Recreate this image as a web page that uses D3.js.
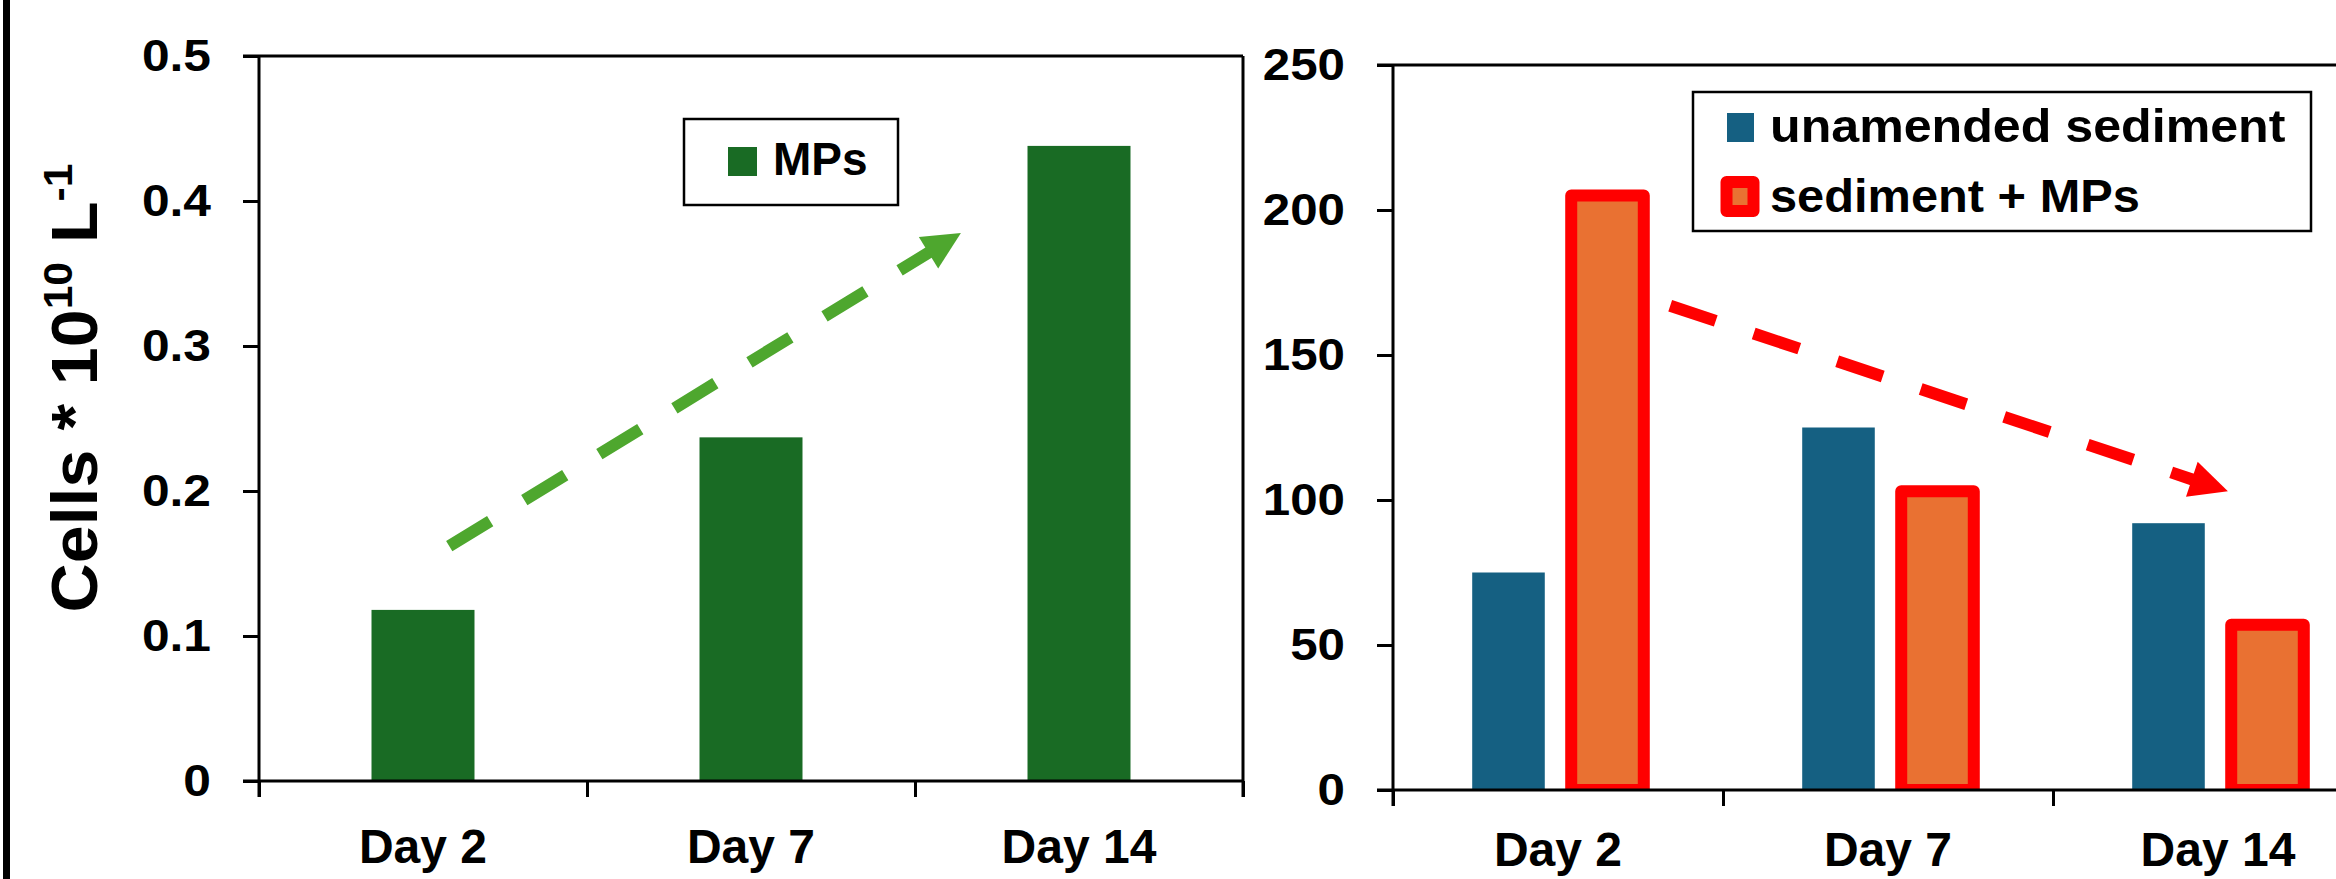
<!DOCTYPE html>
<html><head><meta charset="utf-8">
<script src="https://cdn.jsdelivr.net/npm/d3@7"></script>
<style>
body{margin:0;background:#fff}
svg{display:block}
text{font-family:"Liberation Sans",Arial,sans-serif;font-weight:bold;fill:#000}
</style>
</head><body>
<svg id="c" width="2336" height="879"></svg>
<script>
// ---------- data ----------
const days = ["Day 2", "Day 7", "Day 14"];
const mpsCells = [0.118, 0.237, 0.438];          // left panel (Cells * 10^10 L^-1)
const seriesNames = ["unamended sediment", "sediment + MPs"];
const unamended = [75, 125, 92];                  // right panel
const sedimentMPs = [205, 103, 57];
const leftTicks = [0, 0.1, 0.2, 0.3, 0.4, 0.5];
const rightTicks = [0, 50, 100, 150, 200, 250];
// trend arrows: [category index, value]
const trendUp = [[0.08, 0.162], [1.64, 0.378]];
const trendDown = [[0.34, 167], [2.03, 103]];

// ---------- style ----------
const C = {green:"#196B24", arrowGreen:"#4EA72E", blue:"#156082", orange:"#E97132", red:"#FF0000"};
const W = 2336, H = 879, TICK = 16, LW = 3;

const svg = d3.select("#c");
svg.append("rect").attr("x",3).attr("y",0).attr("width",7).attr("height",H).attr("fill","#000");

function widen(sel, k){
  sel.each(function(){
    const l = this.getComputedTextLength();
    this.setAttribute("textLength", l*k);
    this.setAttribute("lengthAdjust","spacingAndGlyphs");
  });
}
function line(g, x1,y1,x2,y2){
  g.append("line").attr("x1",x1).attr("y1",y1).attr("x2",x2).attr("y2",y2)
   .attr("stroke","#000").attr("stroke-width",LW);
}
function arrow(g, p0, p1, color){
  const dx=p1[0]-p0[0], dy=p1[1]-p0[1], len=Math.hypot(dx,dy);
  const ux=dx/len, uy=dy/len, nx=-uy, ny=ux;
  const hl=38, hw=18.5;
  const bx=p1[0]-ux*hl, by=p1[1]-uy*hl;
  g.append("line").attr("x1",p0[0]).attr("y1",p0[1]).attr("x2",bx+ux*2).attr("y2",by+uy*2)
   .attr("stroke",color).attr("stroke-width",12).attr("stroke-dasharray","48,40");
  g.append("path").attr("d",`M${p1[0]},${p1[1]}L${bx+nx*hw},${by+ny*hw}L${bx-nx*hw},${by-ny*hw}Z`)
   .attr("fill",color);
}

// ================= LEFT PANEL =================
const L = {x0:259, x1:1243, y0:781, y1:56};
const xL = d3.scaleBand().domain(days).range([L.x0, L.x1]).paddingInner(0.686).paddingOuter(0.343);
const xLi = d3.scaleLinear().domain([-0.5, 2.5]).range([L.x0, L.x1]);
const yL = d3.scaleLinear().domain([0, 0.5]).range([L.y0, L.y1]);
const gL = svg.append("g");

gL.selectAll("rect.bar").data(mpsCells).join("rect").attr("class","bar")
  .attr("x",(d,i)=>xL(days[i])).attr("width",xL.bandwidth())
  .attr("y",d=>yL(d)).attr("height",d=>yL(0)-yL(d)).attr("fill",C.green);

arrow(gL, [xLi(trendUp[0][0]), yL(trendUp[0][1])], [xLi(trendUp[1][0]), yL(trendUp[1][1])], C.arrowGreen);

// frame
line(gL, L.x0-TICK, L.y1, L.x1, L.y1);
line(gL, L.x1, L.y1, L.x1, L.y0+TICK);
line(gL, L.x0-TICK, L.y0, L.x1, L.y0);
line(gL, L.x0, L.y1, L.x0, L.y0+TICK);

const ayL = gL.append("g").attr("transform",`translate(${L.x0},0)`)
  .call(d3.axisLeft(yL).tickValues(leftTicks).tickSize(TICK).tickSizeOuter(0).tickPadding(32)
        .tickFormat(d=> d===0 ? "0" : d3.format(".1f")(d)));
ayL.select(".domain").remove();
ayL.selectAll(".tick line").attr("stroke-width",LW);
ayL.selectAll(".tick text").style("font-size","44px").attr("fill","#000");
widen(ayL.selectAll(".tick text"), 1.13);

const axL = gL.append("g").attr("transform",`translate(0,${L.y0})`)
  .call(d3.axisBottom(xLi).tickValues([-0.5,0.5,1.5,2.5]).tickSize(TICK).tickSizeOuter(0).tickFormat(""));
axL.select(".domain").remove();
axL.selectAll(".tick line").attr("stroke-width",LW);

gL.selectAll("text.day").data(days).join("text").attr("class","day")
  .attr("x",d=>xL(d)+xL.bandwidth()/2).attr("y",L.y0+82)
  .attr("text-anchor","middle").style("font-size","48px").text(d=>d);

// y title
const tg = gL.append("g").attr("transform","translate(97,388) rotate(-90)");
const tt = tg.append("text").attr("text-anchor","middle").style("font-size","64px");
tt.append("tspan").text("Cells * 10");
tt.append("tspan").attr("dy",-25).style("font-size","40px").text("10");
tt.append("tspan").attr("dy",25).text(" L");
tt.append("tspan").attr("dy",-25).style("font-size","40px").text("-1");
{
  const bb = tt.node().getBBox();
  const k = 449/bb.width;
  tg.attr("transform",`translate(97,388) rotate(-90) scale(${k},1)`);
}

// legend (left)
const lgL = gL.append("g");
lgL.append("rect").attr("x",684).attr("y",119).attr("width",214).attr("height",86)
  .attr("fill","#fff").attr("stroke","#000").attr("stroke-width",2.5);
lgL.append("rect").attr("x",728).attr("y",147).attr("width",29).attr("height",29).attr("fill",C.green);
lgL.append("text").attr("x",773).attr("y",175).style("font-size","46px").text("MPs");

// ================= RIGHT PANEL =================
const R = {x0:1393, x1:2383, y0:790, y1:65};
const xR = d3.scaleBand().domain(days).range([R.x0, R.x1]);
const xRs = d3.scaleBand().domain(seriesNames).range([0, xR.bandwidth()]).paddingInner(0.267).paddingOuter(0.8);
const xRi = d3.scaleLinear().domain([-0.5, 2.5]).range([R.x0, R.x1]);
const yR = d3.scaleLinear().domain([0, 250]).range([R.y0, R.y1]);
const gR = svg.append("g");

svg.append("defs").append("clipPath").attr("id","clipR")
  .append("rect").attr("x",R.x0).attr("y",0).attr("width",W-R.x0).attr("height",R.y0);
const bars = gR.append("g").attr("clip-path","url(#clipR)");
bars.selectAll("rect.u").data(unamended).join("rect").attr("class","u")
  .attr("x",(d,i)=>xR(days[i])+xRs(seriesNames[0])).attr("width",xRs.bandwidth())
  .attr("y",d=>yR(d)).attr("height",d=>yR(0)-yR(d)).attr("fill",C.blue);
bars.selectAll("rect.m").data(sedimentMPs).join("rect").attr("class","m")
  .attr("x",(d,i)=>xR(days[i])+xRs(seriesNames[1])).attr("width",xRs.bandwidth())
  .attr("y",d=>yR(d)).attr("height",d=>yR(0)-yR(d)).attr("fill",C.orange)
  .attr("stroke",C.red).attr("stroke-width",12).attr("stroke-linejoin","round");

arrow(gR, [xRi(trendDown[0][0]), yR(trendDown[0][1])], [xRi(trendDown[1][0]), yR(trendDown[1][1])], C.red);

line(gR, R.x0-TICK, R.y1, W, R.y1);
line(gR, R.x0-TICK, R.y0, W, R.y0);
line(gR, R.x0, R.y1, R.x0, R.y0+TICK);

const ayR = gR.append("g").attr("transform",`translate(${R.x0},0)`)
  .call(d3.axisLeft(yR).tickValues(rightTicks).tickSize(TICK).tickSizeOuter(0).tickPadding(32));
ayR.select(".domain").remove();
ayR.selectAll(".tick line").attr("stroke-width",LW);
ayR.selectAll(".tick text").style("font-size","44px").attr("fill","#000");
widen(ayR.selectAll(".tick text"), 1.12);

const axR = gR.append("g").attr("transform",`translate(0,${R.y0})`)
  .call(d3.axisBottom(xRi).tickValues([-0.5,0.5,1.5,2.5]).tickSize(TICK).tickSizeOuter(0).tickFormat(""));
axR.select(".domain").remove();
axR.selectAll(".tick line").attr("stroke-width",LW);

gR.selectAll("text.day").data(days).join("text").attr("class","day")
  .attr("x",d=>xR(d)+xR.bandwidth()/2).attr("y",R.y0+76)
  .attr("text-anchor","middle").style("font-size","48px").text(d=>d);

// legend (right)
const lgR = gR.append("g");
lgR.append("rect").attr("x",1693).attr("y",92).attr("width",618).attr("height",139)
  .attr("fill","#fff").attr("stroke","#000").attr("stroke-width",2.5);
lgR.append("rect").attr("x",1727).attr("y",113).attr("width",27).attr("height",29).attr("fill",C.blue);
lgR.append("rect").attr("x",1726.5).attr("y",182).attr("width",27).attr("height",29)
  .attr("fill",C.orange).attr("stroke",C.red).attr("stroke-width",12).attr("stroke-linejoin","round");
const lt1 = lgR.append("text").attr("x",1770).attr("y",142).style("font-size","46px").text(seriesNames[0]);
const lt2 = lgR.append("text").attr("x",1770).attr("y",212).style("font-size","46px").text(seriesNames[1]);
widen(lt1, 1.09); widen(lt2, 1.06);
</script>
</body></html>
